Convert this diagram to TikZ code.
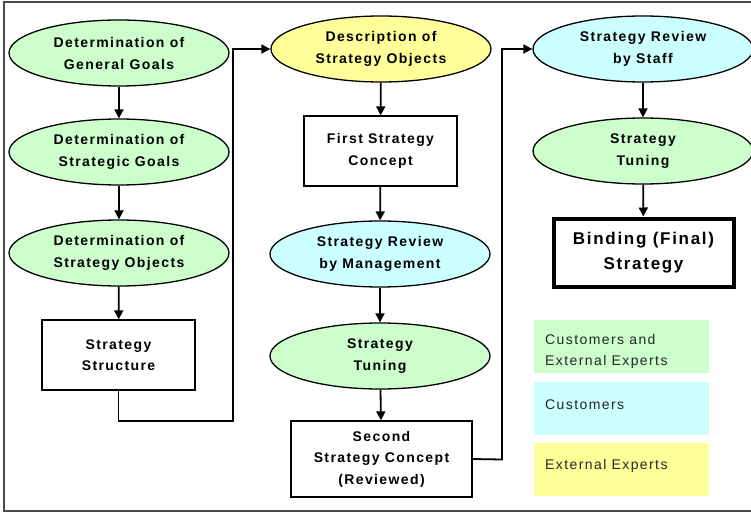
\documentclass[tikz,border=0pt]{standalone}
\usepackage{fontspec}
\setmainfont{Liberation Sans}[LetterSpace=10]
\usetikzlibrary{shapes.geometric,arrows.meta}
\definecolor{lgreen}{HTML}{CCFFCC}
\definecolor{lcyan}{HTML}{CCFFFF}
\definecolor{lyellow}{HTML}{FFFF99}
\definecolor{framegray}{HTML}{4A4A4A}
\tikzset{
  x=1pt, y=-1pt,
  ell/.style={ellipse, draw=black, line width=1.3pt, minimum width=220pt, minimum height=66pt,
    inner sep=0pt, align=center, font=\bfseries\fontsize{14}{22}\selectfont},
  gell/.style={ell, fill=lgreen},
  cell/.style={ell, fill=lcyan},
  yell/.style={ell, fill=lyellow},
  rbox/.style={rectangle, draw=black, line width=1.3pt, fill=white, inner sep=0pt, align=center,
    font=\bfseries\fontsize{14}{21.5}\selectfont},
  arr/.style={line width=1.8pt, -{Triangle[width=9pt,length=9pt]}},
  legbox/.style={rectangle, inner sep=0pt, minimum width=175pt, minimum height=53pt},
  legtext/.style={anchor=west, align=left, inner sep=0pt, text=black!85,
    font=\fontsize{14}{21}\selectfont}
}
\begin{document}
\begin{tikzpicture}
\useasboundingbox (0,0) rectangle (751,513);
\fill[white] (0,0) rectangle (751,513);
\draw[framegray, line width=1.6pt] (760,2) -- (4,2) -- (4,511) -- (760,511);

% left column
\node[gell] (e1) at (119,53) {Determination of\\General Goals};
\node[gell] (e2) at (119,152) {Determination of\\Strategic Goals};
\node[gell] (e3) at (119,253) {Determination of\\Strategy Objects};
\node[rbox, minimum width=153pt, minimum height=70pt] (s1) at (118.5,355) {Strategy\\Structure};

% middle column
\node[yell] (e4) at (381,49) {Description of\\Strategy Objects};
\node[rbox, minimum width=153pt, minimum height=70pt] (s2) at (380.5,151) {First Strategy\\Concept};
\node[cell] (e5) at (380,254) {Strategy Review\\by Management};
\node[gell] (e6) at (380,356) {Strategy\\Tuning};
\node[rbox, minimum width=181pt, minimum height=76pt] (s3) at (381.5,459) {Second\\Strategy Concept\\(Reviewed)};

% right column
\node[cell] (e7) at (643,49) {Strategy Review\\by Staff};
\node[gell] (e8) at (643,151) {Strategy\\Tuning};
\node[rbox, line width=4pt, minimum width=180pt, minimum height=68pt,
  font=\bfseries\fontsize{17}{25}\selectfont] (s4) at (643.5,252.5) {Binding (Final)\\Strategy};

% connectors
\draw[arr] (e1) -- (e2);
\draw[arr] (e2) -- (e3);
\draw[arr] (e3) -- (s1);
\coordinate (k1) at (233,421);
\coordinate (k2) at (233,49);
\draw[arr] (s1.south) |- (k1) -- (k2) -- (e4.west);
\draw[arr] (e4) -- (s2);
\draw[arr] (s2) -- (e5);
\draw[arr] (e5) -- (e6);
\draw[arr] (e6) -- (s3);
\coordinate (k3) at (502,459.5);
\coordinate (k4) at (502,49);
\draw[arr] (s3.east) -- (k3) -- (k4) -- (e7.west);
\draw[arr] (e7) -- (e8);
\draw[arr] (e8) -- (s4);

% legend
\node[legbox, fill=lgreen] (g1) at (621.5,346.5) {};
\node[legbox, fill=lcyan] (g2) at (621.5,408) {};
\node[legbox, fill=lyellow] (g3) at (621.5,469) {};
\node[legtext] (t1) at (545,351.5) {Customers and\\External Experts};
\node[legtext] (t2) at (545,405) {Customers};
\node[legtext] (t3) at (545,466) {External Experts};
\end{tikzpicture}
\end{document}
